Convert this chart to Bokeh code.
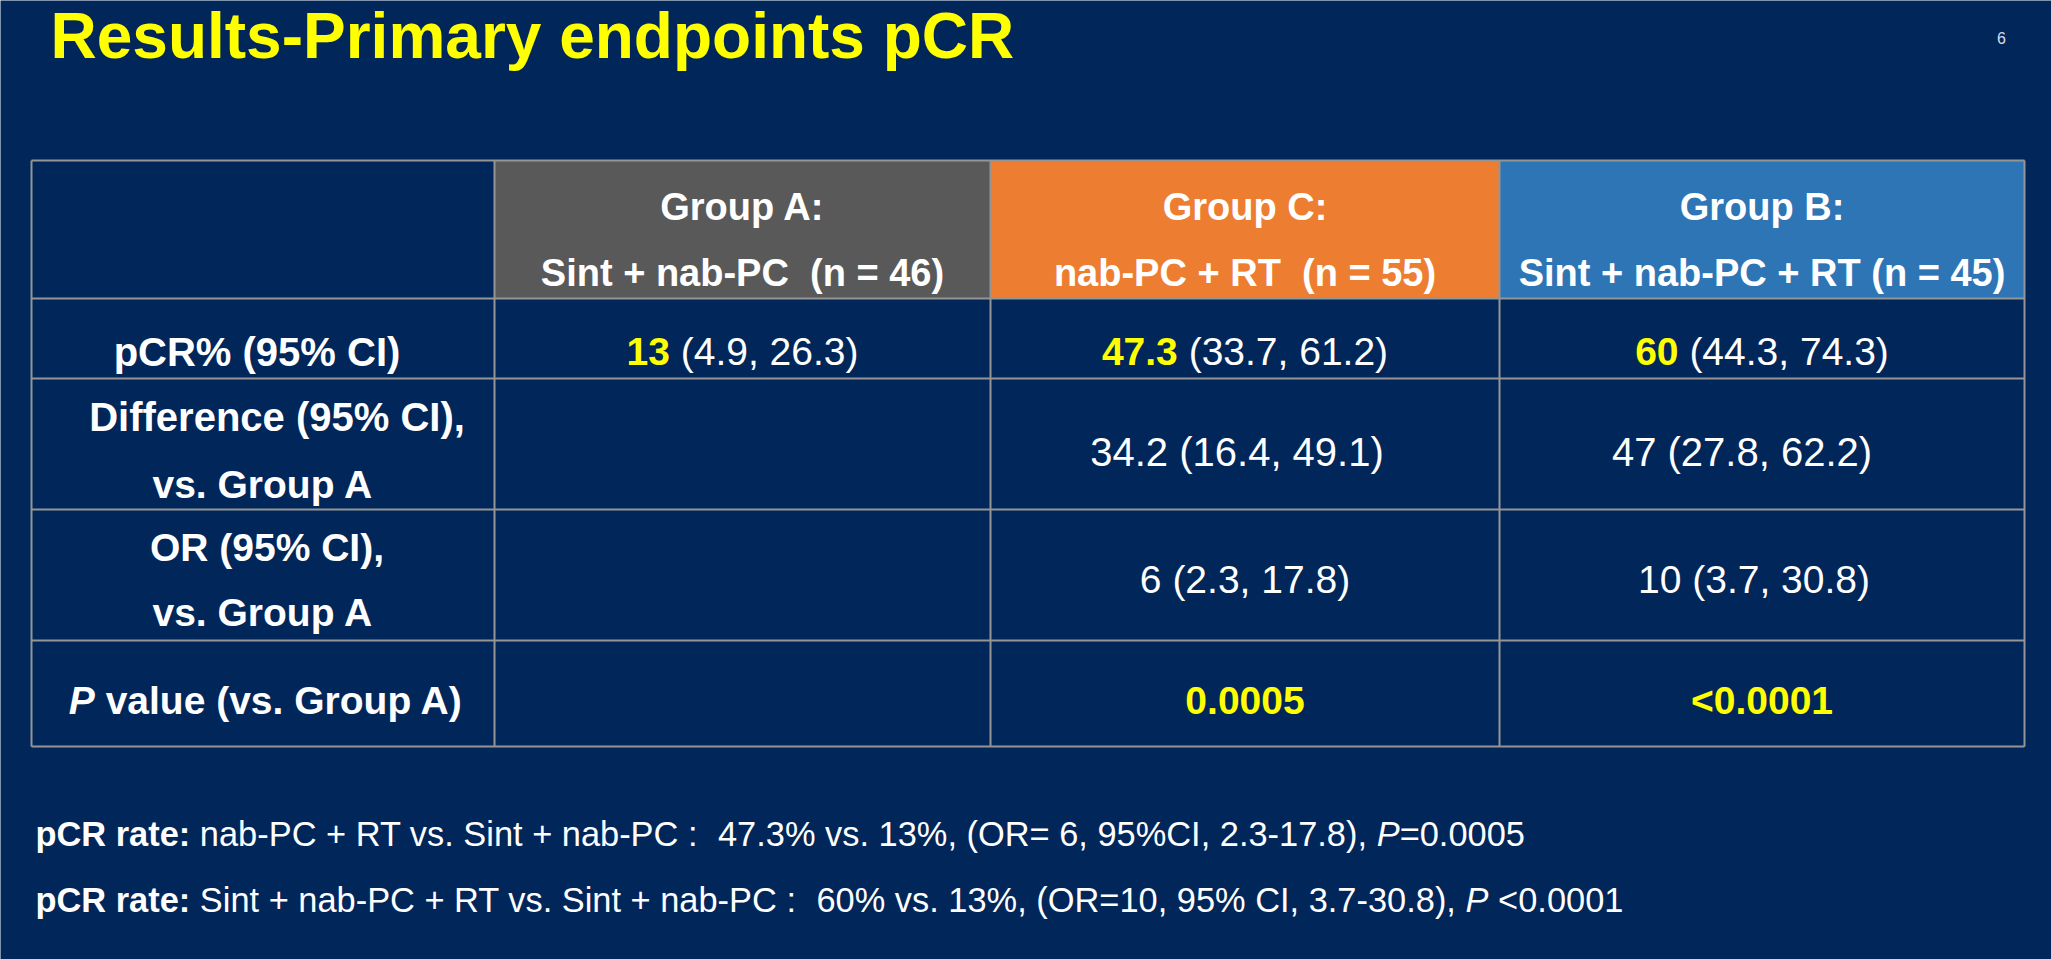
import re
from bokeh.plotting import figure
from bokeh.models import Range1d
from bokeh.core.properties import value
from bokeh.embed import file_html
from bokeh.resources import INLINE

# ---------------- data ----------------
title = "Results-Primary endpoints pCR"
page_no = "6"
groups = ["Group A:", "Group C:", "Group B:"]
regimens = ["Sint + nab-PC  (n = 46)", "nab-PC + RT  (n = 55)", "Sint + nab-PC + RT (n = 45)"]
row_labels = [["pCR% (95% CI)"], ["Difference (95% CI),", "vs. Group A"],
              ["OR (95% CI),", "vs. Group A"], ["P", " value (vs. Group A)"]]
pcr = ["13", "47.3", "60"]
pcr_ci = [" (4.9, 26.3)", " (33.7, 61.2)", " (44.3, 74.3)"]
diff = ["", "34.2 (16.4, 49.1)", "47 (27.8, 62.2)"]
odds = ["", "6 (2.3, 17.8)", "10 (3.7, 30.8)"]
pvals = ["", "0.0005", "<0.0001"]
foot_bold = ["pCR rate:", "pCR rate:"]
foot_text = [" nab-PC + RT vs. Sint + nab-PC :  47.3% vs. 13%, (OR= 6, 95%CI, 2.3-17.8), ",
             " Sint + nab-PC + RT vs. Sint + nab-PC :  60% vs. 13%, (OR=10, 95% CI, 3.7-30.8), "]
foot_p = ["=0.0005", " <0.0001"]

# ---------------- style ----------------
NAVY = "#012659"
YELLOW = "#FFFF00"
WHITE = "#FFFFFF"
LINE = "#959595"
HEAD_COLORS = ["#595959", "#ED7D31", "#2E75B6"]
FONT = value("Liberation Sans")

W, H = 2051, 959

# Arial / Liberation Sans advance widths (1/1000 em)
REG = dict(zip("ABCDEFGHIJKLMNOPQRSTUVWXYZ",
               [667,667,722,722,667,611,778,722,278,500,667,556,833,722,778,667,778,722,667,611,722,667,944,667,667,611]))
REG.update(zip("abcdefghijklmnopqrstuvwxyz",
               [556,556,500,556,556,278,556,556,222,222,500,222,833,556,556,556,556,333,500,278,556,500,722,500,500,500]))
REG.update({" ": 278, "%": 889, "(": 333, ")": 333, "+": 584, ",": 278, "-": 333, ".": 278,
            ":": 278, "<": 584, "=": 584, ">": 584})
REG.update({d: 556 for d in "0123456789"})
BOLD = dict(zip("ABCDEFGHIJKLMNOPQRSTUVWXYZ",
                [722,722,722,722,667,611,778,722,278,556,722,611,833,722,778,667,778,722,667,611,722,667,944,667,667,611]))
BOLD.update(zip("abcdefghijklmnopqrstuvwxyz",
                [556,611,556,611,556,333,611,611,278,278,556,278,889,611,611,611,611,389,556,333,611,556,778,556,556,500]))
BOLD.update({" ": 278, "%": 889, "(": 333, ")": 333, "+": 584, ",": 278, "-": 333, ".": 278,
             ":": 333, "<": 584, "=": 584, ">": 584})
BOLD.update({d: 556 for d in "0123456789"})

def tw(s, size, bold=False):
    t = BOLD if bold else REG
    return sum(t.get(c, 556) for c in s) * size / 1000.0

# layout (pixel coordinates, y downward)
tbl_left, tbl_right = 31, 2024
col_x = [31, 494, 990, 1499, 2024]
row_y = [160, 298, 378, 509, 640, 746]
col_c = [(col_x[i] + col_x[i + 1]) / 2 for i in range(4)]

p = figure(width=W, height=H, x_range=Range1d(0, W), y_range=Range1d(H, 0),
           output_backend="svg", toolbar_location=None, min_border=0,
           x_axis_location=None, y_axis_location=None,
           background_fill_color=NAVY, border_fill_color=NAVY, outline_line_color=None)
p.grid.visible = False

# header fills
p.quad(left=col_x[1:4], right=col_x[2:5],
       top=[row_y[0]] * 3, bottom=[row_y[1]] * 3,
       fill_color=HEAD_COLORS, line_color=None)

# grid lines
p.segment(x0=[tbl_left] * len(row_y), x1=[tbl_right] * len(row_y),
          y0=row_y, y1=row_y, line_color=LINE, line_width=2)
p.segment(x0=col_x, x1=col_x,
          y0=[row_y[0]] * len(col_x), y1=[row_y[-1]] * len(col_x), line_color=LINE, line_width=2)


def runs(x0, y, parts, size):
    """Draw styled parts left-aligned from x0; spacing kept by explicit placement."""
    x = x0
    for text, color, style in parts:
        bold = "bold" in style
        for m in re.finditer(r"\S+(?: \S+)*", text):
            xs = x + tw(text[:m.start()], size, bold)
            p.text(x=[xs], y=[y], text=[m.group()], text_font=FONT, text_font_size=f"{size}px",
                   text_font_style=style, text_color=color, text_baseline="middle", text_align="left")
        x += tw(text, size, bold)
    return x


def centered(xc, y, parts, size):
    total = sum(tw(t, size, "bold" in st) for t, c, st in parts)
    runs(xc - total / 2, y, parts, size)


# title & page number
TS = 64
p.text(x=[50], y=[35], text=[title], text_font=FONT, text_font_size=f"{TS}px",
       text_font_style="bold", text_color=YELLOW, text_baseline="middle", text_align="left")
p.text(x=[2001], y=[37], text=[page_no], text_font=FONT, text_font_size="16px",
       text_color="#D6DCE8", text_baseline="middle", text_align="center")

HS = 38   # header size
BS = 39   # body size (bold labels)
VS = 39   # body size (values)

# header
for i in range(3):
    centered(col_c[i + 1], 206, [(groups[i], WHITE, "bold")], HS)
    centered(col_c[i + 1], 272, [(regimens[i], WHITE, "bold")], HS)

# row labels
centered(col_c[0] - 6, 351, [(row_labels[0][0], WHITE, "bold")], BS + 1)
centered(col_c[0] + 14, 416, [(row_labels[1][0], WHITE, "bold")], BS + 1)
centered(col_c[0], 484, [(row_labels[1][1], WHITE, "bold")], BS)
centered(col_c[0] + 4, 547, [(row_labels[2][0], WHITE, "bold")], BS)
centered(col_c[0], 612, [(row_labels[2][1], WHITE, "bold")], BS)
centered(col_c[0] + 3, 700, [(row_labels[3][0], WHITE, "bold italic"), (row_labels[3][1], WHITE, "bold")], BS)

# values
dx_diff = [0, -8, -20]
dx_odds = [0, 0, -8]
for i in range(3):
    centered(col_c[i + 1], 351, [(pcr[i], YELLOW, "bold"), (pcr_ci[i], WHITE, "normal")], VS)
    if diff[i]:
        centered(col_c[i + 1] + dx_diff[i], 451, [(diff[i], WHITE, "normal")], VS + 1)
    if odds[i]:
        centered(col_c[i + 1] + dx_odds[i], 579, [(odds[i], WHITE, "normal")], VS)
    if pvals[i]:
        centered(col_c[i + 1], 700, [(pvals[i], YELLOW, "bold")], BS)

# footnotes
FS = 34.4
for k, yy in enumerate([833, 899]):
    runs(35, yy, [(foot_bold[k], WHITE, "bold"), (foot_text[k], WHITE, "normal"),
                  ("P", WHITE, "italic"), (foot_p[k], WHITE, "normal")], FS)

open("out.html", "w").write(file_html(p, INLINE))
